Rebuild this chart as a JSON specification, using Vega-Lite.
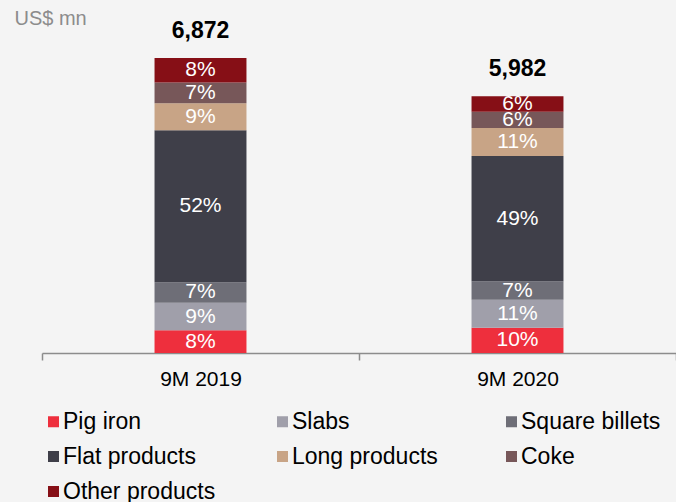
{
  "$schema": "https://vega.github.io/schema/vega-lite/v6.json",
  "width": 634,
  "height": 343,
  "autosize": {"type": "none"},
  "padding": {"left": 42, "top": 10, "right": 0, "bottom": 149},
  "background": "#f4f4f4",
  "config": {"view": {"stroke": null}, "font": "Liberation Sans"},
  "datasets": {
    "segments": [
      {"period": "9M 2019", "segment": "Pig iron", "ord": 1, "value": 530, "pct": "8%"},
      {"period": "9M 2019", "segment": "Slabs", "ord": 2, "value": 640, "pct": "9%"},
      {"period": "9M 2019", "segment": "Square billets", "ord": 3, "value": 480, "pct": "7%"},
      {"period": "9M 2019", "segment": "Flat products", "ord": 4, "value": 3540, "pct": "52%"},
      {"period": "9M 2019", "segment": "Long products", "ord": 5, "value": 630, "pct": "9%"},
      {"period": "9M 2019", "segment": "Coke", "ord": 6, "value": 480, "pct": "7%"},
      {"period": "9M 2019", "segment": "Other products", "ord": 7, "value": 572, "pct": "8%"},
      {"period": "9M 2020", "segment": "Pig iron", "ord": 1, "value": 590, "pct": "10%"},
      {"period": "9M 2020", "segment": "Slabs", "ord": 2, "value": 650, "pct": "11%"},
      {"period": "9M 2020", "segment": "Square billets", "ord": 3, "value": 430, "pct": "7%"},
      {"period": "9M 2020", "segment": "Flat products", "ord": 4, "value": 2920, "pct": "49%"},
      {"period": "9M 2020", "segment": "Long products", "ord": 5, "value": 650, "pct": "11%"},
      {"period": "9M 2020", "segment": "Coke", "ord": 6, "value": 380, "pct": "6%"},
      {"period": "9M 2020", "segment": "Other products", "ord": 7, "value": 362, "pct": "6%"}
    ],
    "totals": [
      {"period": "9M 2019", "total": 6872, "label": "6,872"},
      {"period": "9M 2020", "total": 5982, "label": "5,982"}
    ]
  },
  "encoding": {
    "x": {
      "field": "period",
      "type": "nominal",
      "scale": {"paddingInner": 0, "paddingOuter": 0},
      "axis": {
        "title": null,
        "labelAngle": 0,
        "tickBand": "extent",
        "domainColor": "#8c8c8c",
        "tickColor": "#8c8c8c",
        "domainWidth": 1.5,
        "tickWidth": 1.5,
        "tickSize": 7,
        "labelFontSize": 21,
        "labelColor": "#000000",
        "labelFont": "Liberation Sans",
        "labelPadding": 8
      }
    }
  },
  "layer": [
    {
      "data": {"name": "segments"},
      "mark": {"type": "bar", "width": {"band": 0.29}},
      "encoding": {
        "y": {
          "field": "value",
          "type": "quantitative",
          "stack": "zero",
          "scale": {"domain": [0, 7990], "nice": false, "zero": true},
          "axis": {
            "title": "US$ mn",
            "domain": false,
            "ticks": false,
            "labels": false,
            "grid": false,
            "titleAngle": 0,
            "titleX": -28,
            "titleY": -2,
            "titleAlign": "left",
            "titleBaseline": "top",
            "titleFontSize": 20,
            "titleFontWeight": "normal",
            "titleColor": "#8c8c8c",
            "titleFont": "Liberation Sans"
          }
        },
        "color": {
          "field": "segment",
          "type": "nominal",
          "scale": {
            "domain": ["Pig iron", "Slabs", "Square billets", "Flat products", "Long products", "Coke", "Other products"],
            "range": ["#ee2f3d", "#a09faa", "#6e6e77", "#3f3f49", "#c8a486", "#775759", "#860f16"]
          },
          "legend": {
            "title": null,
            "orient": "none",
            "legendX": 0,
            "legendY": 400,
            "direction": "horizontal",
            "columns": 3,
            "gridAlign": "all",
            "columnPadding": 55,
            "rowPadding": 11,
            "padding": 0,
            "symbolType": "square",
            "symbolSize": 121,
            "symbolStrokeWidth": 0,
            "labelFontSize": 23,
            "labelFont": "Liberation Sans",
            "labelColor": "#000000",
            "labelOffset": -2,
            "labelLimit": 300
          }
        },
        "order": {"field": "ord", "type": "quantitative"}
      }
    },
    {
      "data": {"name": "segments"},
      "mark": {"type": "text", "color": "#ffffff", "fontSize": 21, "baseline": "middle", "align": "center"},
      "encoding": {
        "y": {"field": "value", "type": "quantitative", "stack": "zero", "bandPosition": 0.5},
        "detail": {"field": "segment"},
        "text": {"field": "pct"},
        "order": {"field": "ord", "type": "quantitative"}
      }
    },
    {
      "data": {"name": "totals"},
      "mark": {"type": "text", "fontWeight": "bold", "fontSize": 23, "baseline": "alphabetic", "dy": -20, "color": "#000000"},
      "encoding": {
        "y": {"field": "total", "type": "quantitative"},
        "text": {"field": "label"}
      }
    }
  ]
}
